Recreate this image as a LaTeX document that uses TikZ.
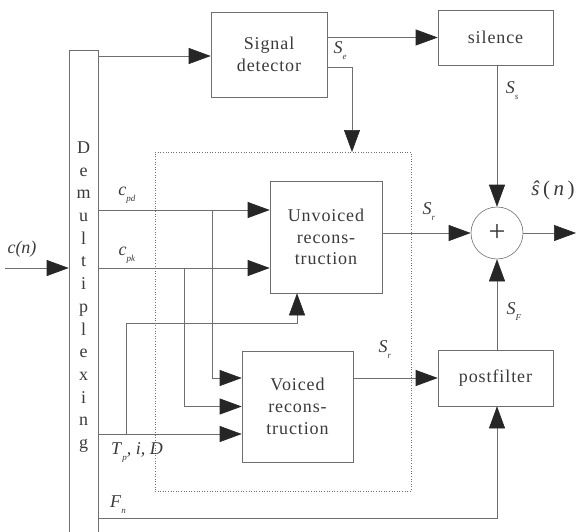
\documentclass[tikz,border=0pt]{standalone}
\usepackage{fontspec}
\setmainfont{Liberation Serif}
\newfontfamily\boxfont[LetterSpace=5]{Liberation Serif}
\usetikzlibrary{arrows.meta}
\definecolor{ink}{HTML}{3A3A3A}
\definecolor{wire}{HTML}{6E6E6E}
\newcommand{\sig}[2]{\textit{#1}\raisebox{-6pt}{\fontsize{9}{9}\selectfont\textit{#2}}}
\tikzset{
  blk/.style={draw=wire, line width=0.6pt, text=ink, align=center, inner sep=0pt,
    font=\boxfont\fontsize{18}{21.7}\selectfont},
  arr/.style={draw=wire, line width=0.6pt,
    -{Triangle[length=22pt,width=16pt,color=black!85,fill=black!85]}},
  lbl/.style={text=ink, inner sep=0pt, font=\fontsize{18}{20}\selectfont}
}
\begin{document}
\begin{tikzpicture}[x=1pt,y=-1pt]
  \useasboundingbox (0,0) rectangle (576,531);

  % blocks
  \node[blk, minimum width=29pt, minimum height=486pt] (demux) at (83.5,293) {};
  \node[lbl, align=center, font=\boxfont\fontsize{18}{22.7}\selectfont] (demuxtxt) at (83.5,297)
    {D\\e\\m\\u\\l\\t\\i\\p\\l\\e\\x\\i\\n\\g};
  \node[blk, minimum width=116pt, minimum height=85pt] (sigdet) at (269,54.5) {Signal\\detector};
  \node[blk, minimum width=115pt, minimum height=55pt] (silence) at (495.5,37.5) {silence};
  \node[draw=wire, dotted, line width=0.6pt, minimum width=256pt, minimum height=339pt] (recon) at (283,321.5) {};
  \node[blk, minimum width=112pt, minimum height=112pt] (unv) at (326,237) {Unvoiced\\recons-\\truction};
  \node[blk, minimum width=111pt, minimum height=111pt] (voi) at (297.5,406.5) {Voiced\\recons-\\truction};
  \node[blk, circle, minimum size=52pt, font=\fontsize{30}{30}\selectfont] (sum) at (497,233) {+};
  \node[blk, minimum width=115pt, minimum height=56pt] (post) at (495.5,378) {postfilter};

  % branch points
  \coordinate (in) at (5,268);
  \coordinate (out) at (576,233);
  \coordinate (cpd) at (212,210);
  \coordinate (cpk) at (184,268);
  \coordinate (tpid) at (126,434);
  \coordinate (tup) at (297,323);
  \coordinate (fn) at (98,518);
  \coordinate (drop) at (352,152);

  % connectors
  \draw[arr] (in) -- (demux.west |- in);
  \draw[arr] (demux.east |- 0,56) -- (sigdet.west |- 0,56);
  \draw[arr] (sigdet.east |- silence) -- (silence.west);
  \draw[arr] (sigdet.east |- 0,67) -| (drop);
  \draw[arr] (silence.south -| sum) -- (sum.north);
  \draw[arr] (unv.east |- sum) -- (sum.west);
  \draw[arr] (sum) ++(26pt,0) -- (out);
  \draw[arr] (post.north -| sum) -- (sum.south);
  \draw[arr] (voi.east |- post) -- (post.west);
  \draw[arr] (demux.east |- cpd) -- (unv.west |- cpd);
  \draw[arr] (demux.east |- cpk) -- (unv.west |- cpk);
  \draw[arr] (cpd) |- ([yshift=28.5pt]voi.west);
  \draw[arr] (cpk) |- (voi.west);
  \draw[arr] (demux.east |- tpid) -- ([yshift=-27.5pt]voi.west);
  \draw[arr] (tpid) |- (tup) -- (unv.south -| tup);
  \draw[arr] (fn) -| (post.south -| sum);

  % labels
  \node[lbl] (lcn) at (22,249) {\textit{c(n)}};
  \node[lbl] (lcpd) at (127,195) {\sig{c}{pd}};
  \node[lbl] (lcpk) at (127,255) {\sig{c}{pk}};
  \node[lbl] (ltp) at (137,452) {\sig{T}{p}\textit{, i, D}};
  \node[lbl] (lfn) at (118,505) {\sig{F}{n}};
  \node[lbl] (lse) at (340,51) {\sig{S}{e}};
  \node[lbl] (lss) at (512,91) {\sig{S}{s}};
  \node[lbl] (lsr1) at (429,212) {\sig{S}{r}};
  \node[lbl] (lsr2) at (385,350) {\sig{S}{r}};
  \node[lbl] (lsf) at (514,312) {\sig{S}{F}};
  \node[lbl, font=\fontsize{21}{22}\selectfont] (lsn) at (553,190) {\textit{ŝ}\,(\,\textit{n}\,)};
\end{tikzpicture}
\end{document}
